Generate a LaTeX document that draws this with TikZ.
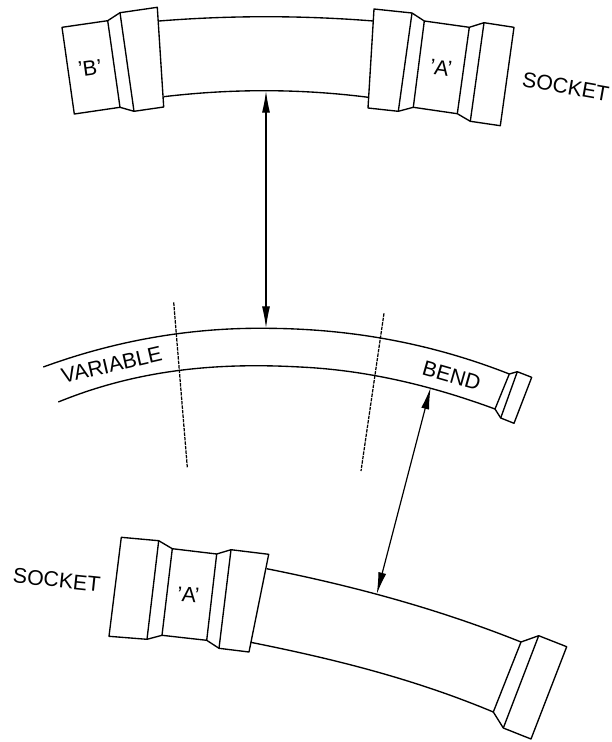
\documentclass[tikz,border=0pt]{standalone}
\usepackage{fontspec}
\setmainfont{Liberation Sans}
\usetikzlibrary{arrows.meta}

\tikzset{
	part/.style={line width=1.35pt, line join=round},
	dim/.style={line width=1.2pt, {Latex[length=22pt,width=8pt]}-{Latex[length=22pt,width=8pt]}},
	cutline/.style={line width=1.25pt, dash pattern=on 3.5pt off 1pt},
	lbl/.style={font=\fontsize{21.3}{24}\selectfont, inner sep=0pt}
}

\begin{document}
\begin{tikzpicture}[x=1pt, y=-1pt]
	\useasboundingbox (0,0) rectangle (611,742);
	% top piece, socket B
	\draw [part] (62,27.3) -- (107.7,20.7) -- (120,12.7) -- (157.3,7.3) -- (163.7,107) -- (134,111.3) -- (120,107.3) -- (74.3,114) -- cycle;
	\draw [part] (107.7,20.7) -- (120,107.3);
	\draw [part] (120,12.7) -- (134,111.3);
	\draw [part] (159,21) .. controls (230,15.3) and (302,15.3) .. (373.3,21);
	\draw [part] (163.7,96.7) .. controls (232,88.6) and (300,88.6) .. (368.3,97.3);
	% top piece, socket A
	\draw [part] (374,9) -- (412,13) -- (424.3,21) -- (469.3,27.3) -- (484,22.7) -- (514,27.3) -- (500.3,125.7) -- (470.3,121.3) -- (457.3,113.7) -- (413.3,107.3) -- (398.3,111.3) -- (368,108) -- cycle;
	\draw [part] (412,13) -- (398.3,111.3);
	\draw [part] (424.3,21) -- (413.3,107.3);
	\draw [part] (469.3,27.3) -- (457.3,113.7);
	\draw [part] (484,22.7) -- (470.3,121.3);
	\node [lbl, rotate=8] (labelB) at (90,68) {'B'};
	\node [lbl, rotate=-8] (labelA) at (441,67.7) {'A'};
	\node [lbl, rotate=-10] (socketA) at (565.7,86.7) {SOCKET};
	% variable bend
	\draw [part] (43.3,367) .. controls (117,340) and (192,327.5) .. (266,328.3) .. controls (347,328.6) and (428,342) .. (509.3,374);
	\draw [part] (58.3,402) .. controls (139,369) and (219,362.5) .. (300,367) .. controls (365,370) and (430,385) .. (495,409);
	\draw [part] (509.3,374) -- (517.3,371.7) -- (531.7,377.3) -- (514,423.3) -- (500.7,418) -- (495,409) -- cycle;
	\draw [part] (517.3,371.7) -- (500.7,418);
	\draw [cutline] (173.7,302.3) -- (187.3,467.3);
	\draw [cutline] (384,313.3) -- (361,471);
	\node [lbl, rotate=13] (variable) at (111.7,365) {VARIABLE};
	\node [lbl, rotate=-16] (bend) at (451.7,375.7) {BEND};
	% bottom piece
	\draw [part] (121.3,537.3) -- (158.7,540.7) -- (172.3,548.7) -- (216.7,554) -- (231,549.7) -- (268.7,554.3) -- (249,652) -- (219,648.3) -- (206.7,640.3) -- (162,635.3) -- (147,639.3) -- (109,636.3) -- cycle;
	\draw [part] (158.7,540.7) -- (147,639.3);
	\draw [part] (172.3,548.7) -- (162,635.3);
	\draw [part] (216.7,554) -- (206.7,640.3);
	\draw [part] (231,549.7) -- (219,648.3);
	\draw [part] (266.7,568.7) .. controls (351,585.5) and (436,608) .. (521,642);
	\draw [part] (250.7,642.3) .. controls (331,658.4) and (412,678) .. (493.3,712);
	\draw [part] (521,642) -- (538.7,635.7) -- (566.7,646.7) -- (531,739) -- (503.3,728) -- (493.3,712) -- cycle;
	\draw [part] (538.7,635.7) -- (503.3,728);
	\node [lbl, rotate=-5] (labelAb) at (188.3,595) {'A'};
	\node [lbl, rotate=-6] (socketAb) at (56.7,580) {SOCKET};
	% dimension arrows
	\coordinate (topend) at (266,90.7);
	\coordinate (midend) at (266,328.3);
	\coordinate (bendend) at (430.7,387.3);
	\coordinate (lowend) at (376.7,594.3);
	\draw [dim] (topend) -- (midend);
	\draw [dim] (bendend) -- (lowend);
\end{tikzpicture}
\end{document}
